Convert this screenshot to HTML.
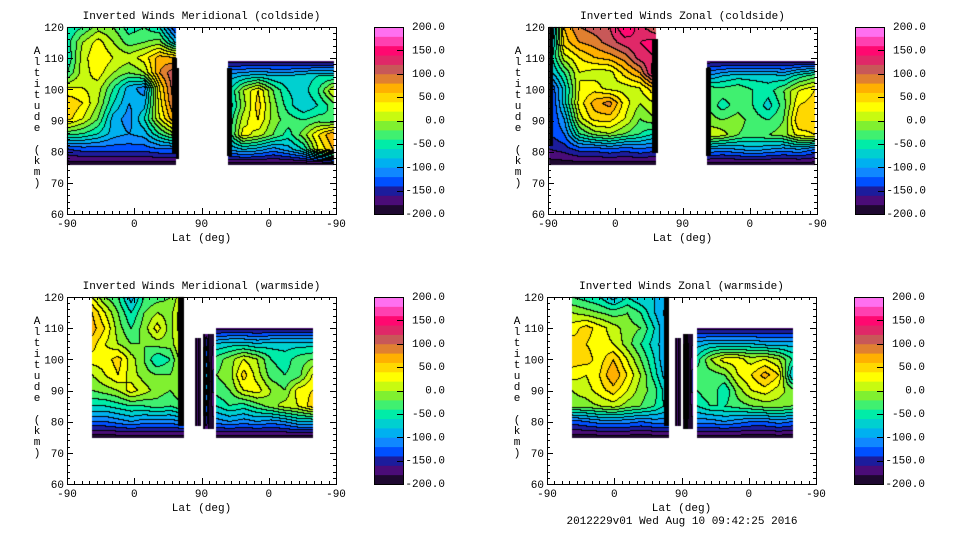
<!DOCTYPE html>
<html><head><meta charset="utf-8">
<style>
html,body{margin:0;padding:0;background:#fff;}
#wrap{position:relative;width:960px;height:540px;overflow:hidden;}
canvas,svg{position:absolute;left:0;top:0;}
text{font-family:"Liberation Mono",monospace;font-size:11px;fill:#000;}
</style></head>
<body>
<div id="wrap">
<canvas id="cv" width="960" height="540"></canvas>
<svg id="sv" width="960" height="540"></svg>
</div>
<script>
// ---- data ----
const panelTitles = ["Inverted Winds Meridional (coldside)","Inverted Winds Zonal (coldside)","Inverted Winds Meridional (warmside)","Inverted Winds Zonal (warmside)"];
const yTicks = [60,70,80,90,100,110,120];
const xTickLabels = ["-90","0","90","0","-90"];
const cbarTicks = [-200,-150,-100,-50,0,50,100,150,200];
const cbarLabels = ["-200.0","-150.0","-100.0","-50.0","0.0","50.0","100.0","150.0","200.0"];
const levels = ["#1e0830","#4a0c78","#1c1c9c","#0050ff","#1088ff","#00b0f0","#00d0d0","#00eca8","#40f070","#80f030","#c8fa10","#ffff00","#ffd800","#ffb000","#e08030","#c85858","#e02868","#ff0870","#ff40b0","#ff70f0"];

const p1L = [
[-60,-40,-10,-20,-50,-40,-60,-140],
[-50,0,30,0,-30,-20,-10,-80],
[-60,10,40,20,10,30,70,60],
[-40,10,30,0,-20,0,80,120],
[20,20,10,-40,-90,-110,40,120],
[60,40,0,-60,-100,-90,30,110],
[50,20,-20,-90,-110,-60,20,80],
[-30,-40,-60,-90,-100,-90,-40,0],
[-140,-130,-130,-130,-130,-130,-120,-120],
[-190,-190,-190,-190,-190,-190,-190,-190]];
const p1R = [
[-170,-170,-170,-170,-170,-170,-170,-170],
[-90,-80,-70,-80,-80,-70,-60,-60],
[-70,0,40,-20,-60,-70,-40,20],
[-80,-10,50,-10,-50,-80,-60,-30],
[-60,10,40,-10,-30,-40,-30,-40],
[-60,30,10,-20,-50,-10,40,80],
[-100,-80,-90,-110,-90,-60,20,60],
[-190,-190,-190,-190,-190,-190,-190,-190]];
const p2L = [
[-150,60,100,110,120,160,130,100],
[-120,50,80,90,110,130,140,150],
[-80,10,40,60,70,90,130,140],
[-90,-40,20,10,10,50,80,160],
[-150,-70,20,30,10,10,20,60],
[-160,-70,30,70,90,30,0,20],
[-150,-100,10,50,50,20,-20,0],
[-140,-120,-40,-10,0,-20,-40,-60],
[-160,-150,-130,-130,-120,-130,-120,-130],
[-190,-190,-190,-190,-190,-190,-190,-190]];
const p2R = [
[-170,-170,-170,-170,-170,-170,-170,-170],
[-100,-80,-70,-70,-70,-80,-50,-30],
[-20,-30,-20,-40,-50,-20,20,40],
[-20,-50,-30,-40,-70,-30,40,50],
[-10,-20,-10,-30,-40,-20,60,50],
[20,10,-20,-30,-20,-10,30,40],
[-100,-110,-100,-90,-100,-110,-100,-120],
[-190,-190,-190,-190,-190,-190,-190,-190]];
const p3L = [
[20,-20,-40,-90,-40,-30,-20,20],
[60,20,-20,-60,-20,0,-10,40],
[70,40,-10,-40,-10,30,-10,40],
[50,20,0,-20,-20,-10,-10,30],
[30,30,50,10,-20,-60,-40,20],
[0,20,40,10,-10,-20,-20,10],
[-20,-10,0,30,10,-10,-20,0],
[-60,-60,-50,-40,-40,-30,-40,-20],
[-120,-120,-110,-100,-110,-110,-110,-100],
[-190,-190,-190,-190,-190,-190,-190,-190]];
const p3R = [
[-170,-170,-170,-170,-170,-170,-170,-170],
[-80,-70,-70,-80,-70,-70,-70,-70],
[-30,-10,20,0,-40,-50,-30,-20],
[-20,-10,50,10,-30,-40,-30,20],
[-30,-20,20,30,0,-20,30,40],
[-60,-40,-50,-30,-10,10,20,50],
[-110,-100,-110,-100,-110,-100,-80,-80],
[-190,-190,-190,-190,-190,-190,-190,-190]];
const p4L = [
[-40,-50,-60,-90,-60,-80,-80,-100],
[0,-10,-20,-30,-20,-40,-80,-110],
[30,50,30,10,-10,-20,-60,-110],
[50,40,30,20,-10,-40,-70,-100],
[50,50,30,60,20,-20,-60,-110],
[30,20,40,80,40,0,-50,-100],
[0,10,30,50,20,-10,-30,-80],
[-10,-10,0,10,-10,-20,-40,-70],
[-130,-120,-110,-110,-110,-120,-110,-110],
[-190,-190,-190,-190,-190,-190,-190,-190]];
const p4R = [
[-170,-170,-170,-170,-170,-170,-170,-170],
[-90,-80,-80,-80,-80,-90,-90,-90],
[-50,0,30,30,10,20,0,-40],
[-30,-30,-20,20,40,70,40,-80],
[-40,-20,-60,-10,20,30,10,-10],
[-60,-40,-40,-30,-20,-10,-10,-20],
[-110,-110,-100,-110,-120,-120,-110,-120],
[-190,-190,-190,-190,-190,-190,-190,-190]];
const stripeA = [[-200,-170,-200],[-200,-150,-200],[-200,-170,-200]];
const stripeB = [[-200,-160,-200,-190],[-200,-60,-200,-150],[-200,-160,-200,-190]];
const blackGrid = [[-999,-999],[-999,-999]];

const regions = [
 {p:0,a:0,b:144,t:120,u:76,g:p1L},{p:0,a:215,b:356,t:109,u:76,g:p1R},
 {p:0,a:140,b:146,t:110,u:80,g:blackGrid},{p:0,a:146,b:149,t:107,u:78,g:blackGrid},{p:0,a:214,b:219,t:107,u:79,g:blackGrid},
 {p:1,a:1,b:143,t:120,u:76,g:p2L},{p:1,a:213,b:356,t:109,u:76,g:p2R},
 {p:1,a:1,b:5,t:120,u:82,g:blackGrid},{p:1,a:139,b:146,t:116,u:80,g:blackGrid},{p:1,a:212,b:217,t:107,u:79,g:blackGrid},
 {p:2,a:33,b:155,t:120,u:75,g:p3L},{p:2,a:199,b:328,t:110,u:75,g:p3R},
 {p:2,a:149,b:155,t:120,u:79,g:blackGrid},{p:2,a:171,b:178,t:107,u:79,g:stripeA},{p:2,a:182,b:195,t:108,u:78,g:stripeB},
 {p:3,a:33,b:162,t:120,u:75,g:p4L},{p:3,a:201,b:328,t:110,u:75,g:p4R},
 {p:3,a:157,b:162,t:120,u:79,g:blackGrid},{p:3,a:171,b:178,t:107,u:79,g:stripeA},{p:3,a:182,b:194,t:108,u:78,g:stripeB}
];

// ---- layout ----
const origins = [[67,27],[548,27],[67,297],[547,297]];
const PW=269, PH=187;
function xPix(p,pos){return origins[p][0]+pos/360*PW;}
function yPix(p,alt){return origins[p][1]+(120-alt)/60*PH;}
function rgb(h){return [parseInt(h.substr(1,2),16),parseInt(h.substr(3,2),16),parseInt(h.substr(5,2),16)];}
const lvRGB = levels.map(rgb);

const cv=document.getElementById('cv'),ctx=cv.getContext('2d');
const img=ctx.createImageData(960,540);
for(let i=0;i<img.data.length;i++)img.data[i]=255;
regions.forEach(r=>{
  const x0=Math.round(xPix(r.p,r.a)),x1=Math.round(xPix(r.p,r.b));
  const y0=Math.round(yPix(r.p,r.t)),y1=Math.round(yPix(r.p,r.u));
  const g=r.g,nr=g.length,nc=g[0].length;
  const W=x1-x0+1,H=y1-y0+1;
  const lv=new Array(W*H);
  for(let j=0;j<H;j++)for(let i=0;i<W;i++){
    const fx=(i/(W-1))*(nc-1),fy=(j/(H-1))*(nr-1);
    const ix=Math.min(Math.floor(fx),nc-2),iy=Math.min(Math.floor(fy),nr-2);
    const tx=fx-ix,ty=fy-iy;
    const v=(g[iy][ix]*(1-tx)+g[iy][ix+1]*tx)*(1-ty)+(g[iy+1][ix]*(1-tx)+g[iy+1][ix+1]*tx)*ty;
    lv[j*W+i]=v<-300?-1:Math.max(0,Math.min(19,Math.floor((v+200)/20)));
  }
  for(let j=0;j<H;j++)for(let i=0;i<W;i++){
    const L=lv[j*W+i];let c;
    const edge=(i<W-1&&lv[j*W+i+1]!==L)||(j<H-1&&lv[(j+1)*W+i]!==L);
    if(L<0||edge)c=[0,0,0];else c=lvRGB[L];
    const k=((y0+j)*960+(x0+i))*4;
    img.data[k]=c[0];img.data[k+1]=c[1];img.data[k+2]=c[2];img.data[k+3]=255;
  }
});
ctx.putImageData(img,0,0);

const NS='http://www.w3.org/2000/svg';
const sv=document.getElementById('sv');
function mk(tag,attrs,parent,txt){const e=document.createElementNS(NS,tag);for(const k in attrs)e.setAttribute(k,attrs[k]);if(txt!==undefined)e.textContent=txt;(parent||sv).appendChild(e);return e;}
origins.forEach((o,p)=>{
  const [X,Y]=o;
  const g=mk('g',{});
  
  
  const fr=mk('rect',{x:X+0.5,y:Y+0.5,width:PW,height:PH,fill:'none',stroke:'#000','stroke-width':1},g);
  
  
  const tt=mk('text',{x:X+PW/2,y:Y-8,'text-anchor':'middle'},g,panelTitles[p]);
  
  
  let d='';
  for(let a=60;a<=120;a+=2){const y=Math.round(yPix(p,a))+0.5;const L=(a%10===0)?6:3;d+=`M${X} ${y}h${L}M${X+PW} ${y}h${-L}`;}
  for(let q=0;q<=360;q+=10){const x=Math.round(xPix(p,q))+0.5;const L=(q%90===0)?6:3;d+=`M${x} ${Y+PH}v${-L}M${x} ${Y}v${L}`;}
  const tk=mk('path',{d:d,stroke:'#000','stroke-width':1,fill:'none'},g);
  
  
  yTicks.forEach(a=>{const t=mk('text',{x:X-3,y:yPix(p,a)+4,'text-anchor':'end'},g,String(a));
    
    });
  xTickLabels.forEach((s,i)=>{const t=mk('text',{x:xPix(p,i*90),y:Y+PH+13,'text-anchor':'middle'},g,s);
    
    });
  const xl=mk('text',{x:X+PW/2,y:Y+PH+27,'text-anchor':'middle'},g,'Lat (deg)');
  
  
  const yl=mk('g',{},g);
  
  
  'Altitude (km)'.split('').forEach((ch,i)=>{mk('text',{x:X-30,y:Y+27+i*11,'text-anchor':'middle'},yl,ch);});
  const cx=X+307, cw=29;
  const cb=mk('g',{},g);
  
  
  const bh=PH/levels.length;
  levels.forEach((c,i)=>{mk('rect',{x:cx,y:Y+PH-(i+1)*bh,width:cw,height:bh+0.5,fill:c},cb);});
  mk('rect',{x:cx+0.5,y:Y+0.5,width:cw,height:PH,fill:'none',stroke:'#000'},cb);
  cbarTicks.forEach((v,i)=>{const y=Y+PH-(v+200)/400*PH;
    mk('path',{d:`M${cx+cw} ${Math.round(y)+0.5}h-6`,stroke:'#000'},cb);
    const t=mk('text',{x:cx+71,y:y+3,'text-anchor':'end'},cb,cbarLabels[i]);
    
    });
});
const ft=mk('text',{x:682,y:524,'text-anchor':'middle'},sv,'2012229v01 Wed Aug 10 09:42:25 2016');


</script>
</body></html>
